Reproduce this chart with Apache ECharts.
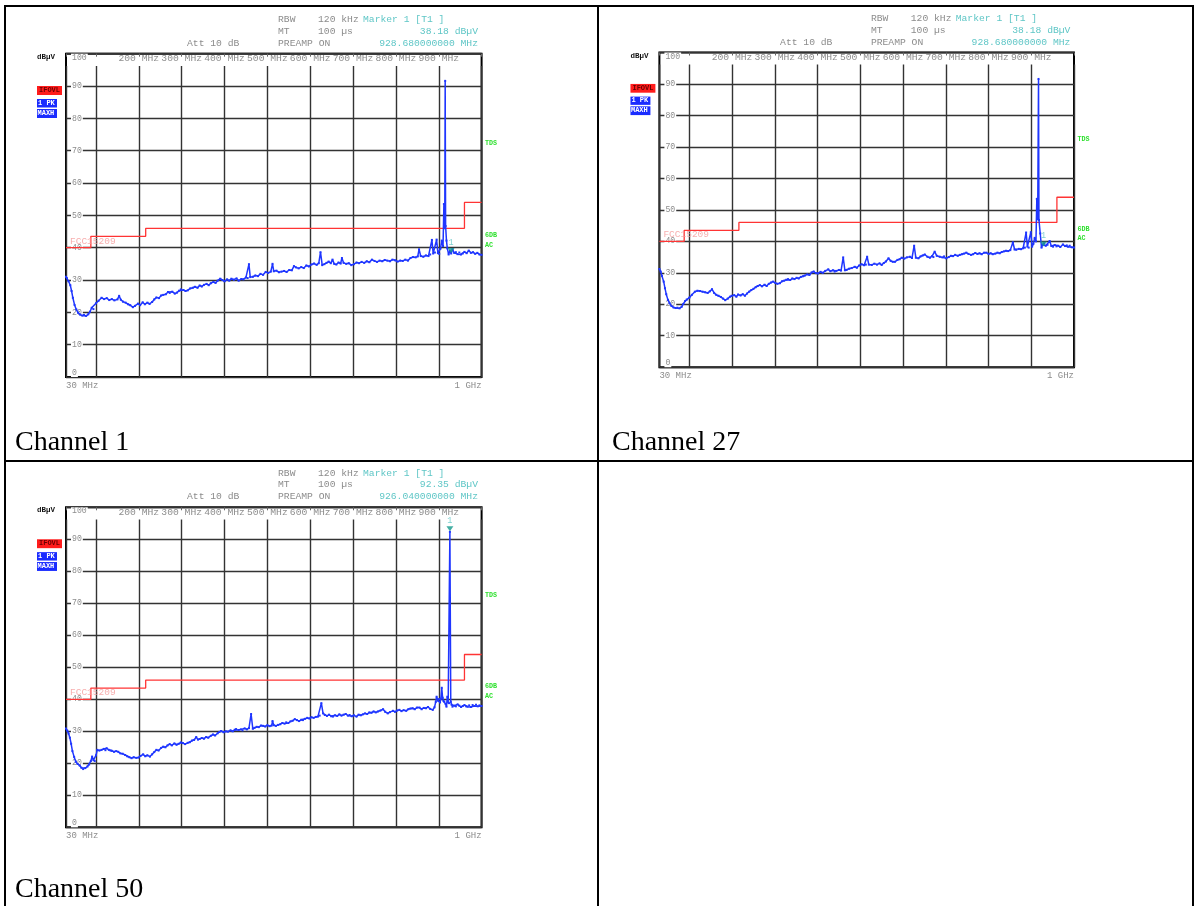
<!DOCTYPE html>
<html><head><meta charset="utf-8">
<script src="https://cdn.jsdelivr.net/npm/echarts@6/dist/echarts.min.js"></script>
<style>
html,body{margin:0;padding:0;background:#fff;}
#wrap{position:relative;width:1195px;height:906px;overflow:hidden;background:#fff;}
#chart{position:absolute;left:0;top:0;width:1195px;height:906px;}
.ln{position:absolute;background:#000;}
.cap{position:absolute;font-family:'Liberation Serif','Times New Roman',serif;font-size:28px;color:#000;line-height:28px;white-space:nowrap;}
</style></head>
<body><div id="wrap">
<div id="chart"></div>
<div class="ln" style="left:4px;top:5px;width:1190px;height:2px"></div>
<div class="ln" style="left:4px;top:5px;width:2px;height:901px"></div>
<div class="ln" style="left:1192px;top:5px;width:2px;height:901px"></div>
<div class="ln" style="left:597px;top:5px;width:2px;height:901px"></div>
<div class="ln" style="left:4px;top:460px;width:1190px;height:2px"></div>
<div class="cap" style="left:15px;top:427px">Channel 1</div>
<div class="cap" style="left:612px;top:427px">Channel 27</div>
<div class="cap" style="left:15px;top:874px">Channel 50</div>
</div>
<script>
// ---------------- data ----------------
const freqRange = [30, 1000];          // MHz
const levelRange = [0, 100];           // dBµV
const topFreqLabels = [200, 300, 400, 500, 600, 700, 800, 900];
const limitLine = [[30, 40], [88, 43.5], [216, 46], [960, 54], [1000, 54]]; // FCC 15.209

const ch1Trace = [[30,31.0],[32,30.6],[36,29.6],[40,28.4],[43,26.6],[46,24.5],[50,22.3],[54,20.9],[58,19.9],[63,19.3],[68,19.0],[72,19.2],[77,18.9],[82,19.4],[86,20.2],[90,21.4],[94,21.0],[100,22.8],[106,23.6],[113,24.5],[119,24.1],[125,24.4],[131,23.8],[137,24.1],[143,23.7],[150,24.0],[154,25.1],[158,23.9],[163,23.3],[169,23.0],[175,22.5],[180,22.2],[186,21.6],[191,22.0],[198,22.7],[203,22.2],[209,23.1],[214,22.5],[220,23.0],[225,22.6],[231,23.2],[236,24.0],[241,24.6],[247,24.4],[252,25.2],[257,25.4],[263,25.6],[268,26.3],[272,26.0],[278,26.4],[284,25.8],[289,26.1],[294,26.7],[298,27.1],[304,26.9],[309,26.6],[314,26.8],[320,27.4],[326,27.6],[331,27.9],[337,27.6],[342,28.3],[347,28.0],[352,28.5],[358,28.8],[363,28.4],[368,29.0],[374,29.4],[379,29.1],[384,29.8],[390,30.4],[395,30.0],[400,29.6],[406,30.2],[411,29.8],[416,30.4],[422,30.1],[428,30.5],[433,29.8],[439,30.3],[444,30.2],[450,30.8],[454,30.6],[457,34.9],[460,30.9],[466,31.0],[472,31.4],[478,31.2],[484,31.9],[490,31.6],[496,32.5],[502,32.2],[508,32.6],[512,35.0],[515,32.7],[521,32.9],[527,32.4],[533,32.6],[539,32.8],[545,32.5],[551,33.1],[557,33.0],[562,34.3],[567,33.9],[573,33.6],[579,34.0],[585,33.7],[591,34.5],[597,34.2],[603,34.8],[609,35.1],[615,34.7],[620,35.2],[624,38.6],[628,34.6],[633,34.9],[638,35.3],[643,35.7],[648,35.2],[652,36.3],[656,35.0],[661,34.8],[666,35.4],[671,35.1],[674,36.8],[678,35.3],[684,35.0],[690,35.2],[696,34.6],[702,34.9],[708,35.4],[714,35.2],[720,35.6],[726,35.3],[732,35.8],[738,35.5],[744,36.3],[750,35.9],[756,35.6],[762,36.0],[768,35.8],[774,36.2],[780,36.0],[786,35.8],[792,36.3],[798,36.1],[804,35.7],[810,36.0],[816,35.9],[822,36.3],[828,36.0],[834,36.8],[840,37.1],[846,37.0],[851,37.3],[854,39.5],[858,37.4],[864,37.2],[870,37.6],[876,37.4],[880,37.9],[884,42.4],[887,38.2],[891,38.5],[895,42.5],[898,38.3],[901,38.1],[904,39.7],[907,42.2],[910,40.5],[912,53.5],[914,46.0],[915,91.6],[916,46.7],[918,42.2],[920,39.8],[923,37.9],[926,39.0],[929,38.2],[932,39.6],[936,38.4],[940,38.6],[944,38.0],[948,38.5],[952,37.9],[956,38.2],[960,38.7],[965,38.3],[970,39.1],[975,38.4],[980,38.6],[985,38.1],[990,38.4],[995,37.9],[1000,37.8]];

const ch27Trace = [[30,31.2],[33,30.4],[36,29.0],[40,27.2],[43,25.1],[46,23.2],[50,21.4],[54,20.3],[58,19.5],[63,19.0],[68,18.8],[72,18.9],[77,18.7],[82,19.2],[86,20.1],[90,21.0],[94,21.5],[100,22.1],[106,23.0],[113,24.0],[119,24.3],[125,24.2],[131,24.0],[137,23.8],[143,23.6],[148,24.1],[153,24.8],[158,23.6],[163,23.0],[168,22.7],[174,22.3],[179,21.8],[184,21.3],[190,21.8],[195,22.4],[199,22.7],[205,22.9],[210,22.4],[214,23.1],[220,22.8],[225,23.2],[230,22.7],[235,23.4],[240,24.0],[245,24.5],[250,24.9],[255,25.4],[260,25.8],[265,26.1],[270,25.7],[276,26.2],[281,25.8],[286,26.5],[291,26.9],[296,27.2],[301,26.8],[306,26.5],[312,26.7],[317,27.3],[322,27.5],[327,27.8],[331,28.0],[336,27.7],[341,28.2],[346,28.0],[351,28.4],[356,28.2],[361,28.7],[366,28.9],[370,29.1],[376,29.5],[381,29.3],[386,30.1],[391,30.4],[396,29.9],[401,29.8],[407,30.3],[412,30.0],[418,30.6],[425,31.1],[430,30.5],[436,30.8],[440,30.4],[444,30.6],[450,30.9],[455,30.7],[460,34.9],[464,30.8],[468,30.9],[474,31.3],[480,31.5],[487,31.9],[492,31.6],[497,32.3],[503,32.7],[509,32.4],[513,32.6],[516,35.1],[520,32.6],[527,32.5],[533,32.9],[539,32.6],[545,33.0],[550,32.5],[555,33.1],[560,33.6],[566,34.6],[571,33.8],[576,33.5],[581,33.5],[587,34.1],[592,34.3],[597,34.8],[603,34.5],[609,34.9],[616,35.1],[621,34.7],[626,38.6],[630,34.8],[636,34.6],[641,35.2],[646,35.5],[651,35.8],[657,35.1],[663,34.8],[668,35.3],[671,35.0],[674,36.7],[679,35.4],[686,35.1],[692,34.9],[696,35.2],[701,34.6],[707,35.0],[712,35.4],[717,35.3],[722,35.7],[728,35.4],[733,35.7],[738,35.9],[743,36.1],[748,36.4],[753,36.0],[759,35.7],[764,35.9],[769,36.3],[774,36.0],[779,36.2],[784,35.9],[790,36.4],[795,36.4],[800,36.0],[805,36.2],[810,35.9],[816,36.1],[821,36.4],[826,36.2],[831,36.6],[836,36.8],[841,37.0],[846,36.9],[851,37.2],[857,39.7],[861,37.4],[865,37.3],[871,37.6],[876,37.5],[881,37.8],[885,38.0],[888,42.8],[891,38.3],[894,38.0],[899,42.9],[902,38.3],[905,39.2],[908,41.1],[911,40.0],[913,53.5],[915,47.0],[917,91.6],[918,46.8],[921,42.5],[924,38.0],[927,39.0],[930,39.4],[934,38.6],[938,38.9],[943,40.1],[947,38.5],[951,38.3],[955,38.8],[959,38.4],[963,38.6],[968,38.2],[974,39.0],[979,38.5],[983,38.7],[986,38.3],[990,38.6],[995,38.1],[1000,38.0]];

const ch50Trace = [[30,30.9],[33,30.2],[36,29.3],[39,28.0],[42,26.1],[45,23.8],[49,22.0],[53,20.5],[57,19.8],[62,19.3],[66,18.6],[70,18.2],[75,18.5],[80,19.0],[84,19.6],[88,20.7],[91,22.1],[94,21.0],[97,20.7],[100,22.5],[103,24.2],[108,24.0],[113,24.2],[118,24.5],[122,24.1],[125,24.7],[130,24.2],[134,24.0],[137,23.9],[142,23.6],[147,23.8],[152,23.6],[157,23.1],[162,23.0],[168,22.6],[173,22.2],[178,21.9],[183,21.6],[188,21.9],[194,21.7],[199,21.8],[204,22.3],[210,22.8],[215,22.2],[220,22.5],[226,22.1],[231,22.8],[236,23.5],[241,24.2],[246,24.0],[252,24.8],[257,25.2],[262,25.0],[267,25.6],[272,26.0],[277,25.6],[283,26.2],[288,25.8],[293,26.1],[298,26.5],[303,26.3],[308,26.0],[314,26.4],[319,26.6],[324,27.1],[329,27.3],[334,28.2],[338,27.4],[342,27.6],[347,27.9],[352,27.7],[357,28.2],[362,28.0],[368,28.6],[373,29.0],[378,28.7],[384,29.4],[388,29.8],[392,30.1],[398,29.7],[403,30.0],[408,29.9],[414,30.3],[419,30.0],[424,30.5],[427,30.7],[433,30.4],[438,30.6],[442,30.3],[447,30.9],[452,30.6],[457,31.0],[462,35.4],[466,30.8],[470,31.1],[475,31.4],[480,31.3],[485,31.8],[490,31.7],[495,31.5],[500,31.9],[505,31.6],[510,31.8],[512,33.2],[515,31.9],[520,31.7],[525,32.0],[530,32.2],[535,32.6],[540,32.4],[544,32.8],[549,32.6],[554,33.1],[559,33.3],[564,33.8],[569,33.5],[574,33.2],[579,33.6],[583,33.5],[588,33.9],[593,34.2],[598,34.0],[603,34.4],[608,34.2],[613,34.5],[618,34.6],[622,34.9],[626,38.8],[630,35.6],[634,35.1],[639,34.8],[644,35.2],[649,34.7],[653,34.6],[658,35.0],[663,34.8],[668,35.3],[673,34.9],[678,35.2],[683,35.4],[688,34.9],[692,35.1],[697,34.7],[702,35.0],[708,34.6],[713,35.2],[718,35.0],[723,35.3],[728,35.6],[733,35.4],[738,35.9],[743,35.8],[748,36.2],[753,35.9],[758,36.2],[764,36.5],[770,36.9],[775,36.1],[781,35.6],[786,36.0],[793,36.4],[798,36.1],[803,36.5],[808,36.7],[813,36.3],[818,36.6],[824,36.4],[829,36.9],[834,37.1],[839,37.2],[844,36.9],[849,37.4],[855,37.4],[860,36.9],[865,37.3],[870,37.2],[875,37.6],[880,37.0],[886,36.7],[890,37.5],[893,39.2],[895,40.8],[898,39.6],[901,40.1],[903,39.0],[905,40.2],[907,43.6],[909,40.5],[911,39.5],[913,39.2],[916,38.5],[918,37.7],[920,40.8],[922,39.0],[924,38.8],[926,92.35],[928,39.2],[930,38.3],[932,37.7],[936,38.0],[940,37.8],[944,38.4],[948,38.0],[952,37.6],[956,37.9],[960,38.2],[964,37.8],[967,37.7],[971,38.1],[975,37.6],[979,38.2],[983,37.9],[987,38.3],[991,37.8],[995,38.1],[1000,37.9]];

const ch1Marker = [928.68, 38.18];
const ch27Marker = [928.68, 38.18];
const ch50Marker = [926.04, 92.35];
const ch1MarkerText = ['Marker 1 [T1 ]', '38.18 dBµV', '928.680000000 MHz'];
const ch27MarkerText = ['Marker 1 [T1 ]', '38.18 dBµV', '928.680000000 MHz'];
const ch50MarkerText = ['Marker 1 [T1 ]', '92.35 dBµV', '926.040000000 MHz'];
const settingNames = ['RBW', 'MT', 'PREAMP ON'];
const settingValues = ['120 kHz', '100 µs', ''];
const attText = 'Att 10 dB';
const unitText = 'dBµV';
const statusBoxes = ['IFOVL', '1 PK', 'MAXH'];
const sideTags = ['TDS', '6DB', 'AC'];
const limitName = 'FCC15209';

// ---------------- layout (page pixels) ----------------
const layout = [
  {L: 66,    T: 53.7,  R: 481.6, B: 377},
  {L: 659.4, T: 52.5,  R: 1074,  B: 367.2},
  {L: 66,    T: 507.3, R: 481.6, B: 827.3}
];
const panels = [
  {trace: ch1Trace, marker: ch1Marker, mtext: ch1MarkerText},
  {trace: ch27Trace, marker: ch27Marker, mtext: ch27MarkerText},
  {trace: ch50Trace, marker: ch50Marker, mtext: ch50MarkerText}
];

const MONO = '"Liberation Mono","DejaVu Sans Mono",monospace';
const GRAY = '#8c8c8c';
const TEAL = '#5ec6c6';
const GREEN = '#2fe02f';
const GRID = '#333';
const BLUE = '#1f36ff';
const RED = '#ff3434';

const grids = [], xAxes = [], yAxes = [], series = [], graphics = [];

layout.forEach((g, i) => {
  const sx = (g.R - g.L) / 415.6, sy = (g.B - g.T) / 323.3;
  const P = (dx, dy) => [g.L + dx * sx, g.T + dy * sy];
  const pn = panels[i];
  const vTop = g.T + 12.3 * sy;

  grids.push({left: g.L, top: g.T, width: g.R - g.L, height: g.B - g.T, show: true,
    borderColor: '#000', borderWidth: 2, backgroundColor: 'transparent', outerBoundsMode: 'none', containLabel: false});
  grids.push({left: g.L, top: vTop, width: g.R - g.L, height: g.B - vTop, show: false,
    outerBoundsMode: 'none', containLabel: false});

  const gi = i * 2;
  xAxes.push({type: 'value', gridIndex: gi, min: freqRange[0], max: freqRange[1], splitNumber: 10, position: 'bottom',
    axisLine: {show: false}, axisTick: {show: false}, splitLine: {show: false},
    axisLabel: {show: true, interval: 0, showMinLabel: true, showMaxLabel: true, margin: 4,
      color: GRAY, fontSize: 9, fontFamily: MONO, alignMinLabel: 'left', alignMaxLabel: 'right',
      formatter: v => v === freqRange[0] ? '30 MHz' : (v === freqRange[1] ? '1 GHz' : '')}});
  xAxes.push({type: 'value', gridIndex: gi, min: freqRange[0], max: freqRange[1], splitNumber: 10, position: 'top',
    axisLine: {show: false}, axisTick: {show: true, inside: true, length: 3, lineStyle: {color: '#666', width: 1}},
    splitLine: {show: false}, axisLabel: {show: false}});
  xAxes.push({type: 'value', gridIndex: gi + 1, min: freqRange[0], max: freqRange[1], splitNumber: 10, position: 'top',
    axisLine: {show: false}, axisTick: {show: false},
    splitLine: {show: true, lineStyle: {color: GRID, width: 1.4}},
    axisLabel: {show: true, interval: 0, margin: 2.5, color: GRAY, fontSize: 9.7, fontFamily: MONO,
      formatter: v => topFreqLabels.indexOf(v) >= 0 ? v + ' MHz' : ''}});

  yAxes.push({type: 'value', gridIndex: gi, min: levelRange[0], max: levelRange[1], interval: 10,
    axisLine: {show: false}, axisTick: {show: false},
    splitLine: {show: true, lineStyle: {color: GRID, width: 1.4}},
    axisLabel: {show: true, inside: true, margin: 5, color: GRAY, fontSize: 8.2, fontFamily: MONO,
      backgroundColor: '#fff', padding: [0, 1, 0, 1],
      verticalAlignMinLabel: 'bottom', verticalAlignMaxLabel: 'top'}});
  yAxes.push({type: 'value', gridIndex: gi + 1, min: 0, max: 1, show: false,
    splitLine: {show: false}, axisLabel: {show: false}});

  const xi = i * 3, yi = i * 2;
  series.push({type: 'line', xAxisIndex: xi, yAxisIndex: yi, data: pn.trace, z: 4,
    showSymbol: true, showAllSymbol: true, symbol: 'rect', symbolSize: 2,
    itemStyle: {color: BLUE}, lineStyle: {color: BLUE, width: 1.5}, animation: false, silent: true});
  series.push({type: 'line', xAxisIndex: xi, yAxisIndex: yi, step: 'end', z: 3, data: limitLine,
    showSymbol: false, lineStyle: {color: RED, width: 1.3}, animation: false, silent: true});
  // limit line name, anchored at the limit's first point
  series.push({type: 'scatter', xAxisIndex: xi, yAxisIndex: yi, z: 5, data: [limitLine[0]],
    symbolSize: 0, itemStyle: {color: 'transparent'},
    label: {show: true, formatter: limitName, position: 'right', distance: 4, offset: [0, -6.5],
      color: '#f59a9a', fontSize: 9.5, fontFamily: MONO}, animation: false, silent: true});
  series.push({type: 'scatter', xAxisIndex: xi, yAxisIndex: yi, data: [pn.marker], z: 6,
    symbol: 'triangle', symbolRotate: 180, symbolSize: [7, 5], symbolOffset: [0, -3],
    itemStyle: {color: '#159a8c'},
    label: {show: true, formatter: '1', position: 'top', distance: 1, color: TEAL, fontSize: 8.5, fontFamily: MONO},
    animation: false, silent: true});

  const T = (dx, dy, text, o) => {
    const [x, y] = P(dx, dy);
    o = o || {};
    return {type: 'text', x: x, y: y, z: 60, silent: true, style: {text: text, fill: o.color || GRAY,
      fontSize: o.size || 9.7, fontFamily: MONO, fontWeight: o.bold ? 'bold' : 'normal',
      align: o.align || 'left', verticalAlign: 'middle'}};
  };
  const Rct = (dx, dy, w, h, fill) => {
    const [x, y] = P(dx, dy);
    return {type: 'rect', z: 55, silent: true, shape: {x: x, y: y, width: w * sx, height: h * sy}, style: {fill: fill}};
  };
  graphics.push(T(-29, 3.3, unitText, {color: '#111', bold: true, size: 7.5}));
  graphics.push(Rct(-29, 32.3, 25, 9, '#ff1c1c'));
  graphics.push(T(-16.5, 36.8, statusBoxes[0], {color: '#6a0000', bold: true, size: 7, align: 'center'}));
  graphics.push(Rct(-29, 45.3, 20, 8.5, '#1a2cff'));
  graphics.push(T(-28, 49.5, statusBoxes[1], {color: '#fff', bold: true, size: 7}));
  graphics.push(Rct(-29, 55.3, 20, 9, '#1a2cff'));
  graphics.push(T(-28.5, 59.8, statusBoxes[2], {color: '#fff', bold: true, size: 7}));
  graphics.push(T(121, -10.7, attText));
  graphics.push(T(212, -34.7, settingNames[0]));
  graphics.push(T(252, -34.7, settingValues[0]));
  graphics.push(T(297, -34.7, pn.mtext[0], {color: TEAL}));
  graphics.push(T(212, -22.7, settingNames[1]));
  graphics.push(T(252, -22.7, settingValues[1]));
  graphics.push(T(412, -22.7, pn.mtext[1], {color: TEAL, align: 'right'}));
  graphics.push(T(212, -10.7, settingNames[2]));
  graphics.push(T(412, -10.7, pn.mtext[2], {color: TEAL, align: 'right'}));
  graphics.push(T(419, 89.3, sideTags[0], {color: GREEN, bold: true, size: 6.7}));
  graphics.push(T(419, 181.3, sideTags[1], {color: GREEN, bold: true, size: 6.7}));
  graphics.push(T(419, 191.3, sideTags[2], {color: GREEN, bold: true, size: 6.7}));
});

const chart = echarts.init(document.getElementById('chart'), null, {renderer: 'canvas'});
chart.setOption({
  animation: false,
  backgroundColor: 'transparent',
  grid: grids, xAxis: xAxes, yAxis: yAxes, series: series, graphic: graphics
});
</script>
</body></html>
